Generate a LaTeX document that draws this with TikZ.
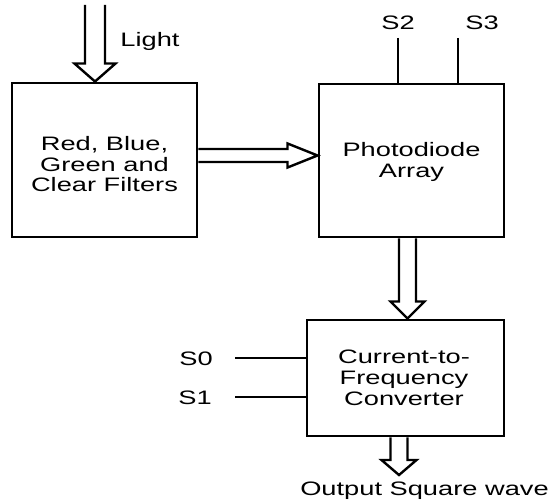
\documentclass[tikz,border=0pt]{standalone}
\usepackage{fontspec}
\setmainfont{Liberation Sans}[FakeStretch=1.4]
\usetikzlibrary{calc}
\begin{document}
\begin{tikzpicture}[x=0.75pt,y=-0.75pt,
  box/.style={draw, line width=2.2pt, inner sep=0pt},
  btxt/.style={inner sep=0pt, align=center, anchor=north,
    font=\fontsize{14.6pt}{15.6pt}\selectfont},
  lbl/.style={font=\fontsize{14.6pt}{15.6pt}\selectfont, inner sep=0pt, anchor=base},
  hollow/.style={draw, line width=1.8pt, line join=miter},
  sig/.style={draw, line width=2pt}]
\fill[white] (0,0) rectangle (553,503);
\useasboundingbox (0,0) rectangle (553,503);

% blocks
\node[box, minimum width=185*0.75pt, minimum height=154*0.75pt] (filt) at (104.5,160) {};
\node[box, minimum width=185*0.75pt, minimum height=153*0.75pt] (pd) at (411.5,160.5) {};
\node[box, minimum width=197*0.75pt, minimum height=116*0.75pt] (cf) at (405.5,378) {};
\node[btxt] (ftxt) at (104.5,136) {Red, Blue,\\Green and\\Clear Filters};
\node[btxt] (ptxt) at (411.5,142) {Photodiode\\Array};
\node[btxt] (ctxt) at (404,350) {Current-to-\\Frequency\\Converter};

% labels
\node[lbl] (light) at (150,47) {Light};
\node[lbl] (s2) at (398,30) {S2};
\node[lbl] (s3) at (482,30) {S3};
\node[lbl] (s0) at (196,365) {S0};
\node[lbl] (s1) at (195,404) {S1};
\node[lbl] (out) at (424.5,495) {Output Square wave};

% control lines
\coordinate (s2e) at (398,38);
\coordinate (s3e) at (458,38);
\coordinate (s0e) at (235,358);
\coordinate (s1e) at (235,397);
\draw[sig] (s2e) -- (s2e |- pd.north);
\draw[sig] (s3e) -- (s3e |- pd.north);
\draw[sig] (s0e) -- (s0e -| cf.west);
\draw[sig] (s1e) -- (s1e -| cf.west);

% Light arrow
\coordinate (ltop) at (95,5);
\draw[hollow] ($(ltop)+(-10,0)$) -- ($(ltop |- filt.north)+(-10,-18)$)
  -- ($(ltop |- filt.north)+(-20.5,-18)$) -- (ltop |- filt.north)
  -- ($(ltop |- filt.north)+(20.5,-18)$) -- ($(ltop |- filt.north)+(10,-18)$)
  -- ($(ltop)+(10,0)$);

% filters -> photodiode
\coordinate (h) at (0,155.5);
\draw[hollow] ($(filt.east|-h)+(0,-6.5)$) -- ($(pd.west|-h)+(-30,-6.5)$)
  -- ($(pd.west|-h)+(-30,-12)$) -- (pd.west|-h)
  -- ($(pd.west|-h)+(-30,12)$) -- ($(pd.west|-h)+(-30,6.5)$)
  -- ($(filt.east|-h)+(0,6.5)$);

% photodiode -> converter
\coordinate (v1) at (407.5,0);
\draw[hollow] ($(v1|-pd.south)+(-8.5,0)$) -- ($(v1|-cf.north)+(-8.5,-17)$)
  -- ($(v1|-cf.north)+(-17,-17)$) -- (v1|-cf.north)
  -- ($(v1|-cf.north)+(17,-17)$) -- ($(v1|-cf.north)+(8.5,-17)$)
  -- ($(v1|-pd.south)+(8.5,0)$);

% converter -> output
\coordinate (oend) at (399,475);
\draw[hollow] ($(oend|-cf.south)+(-8.5,0)$) -- ($(oend)+(-8.5,-15)$)
  -- ($(oend)+(-17.5,-15)$) -- (oend)
  -- ($(oend)+(17.5,-15)$) -- ($(oend)+(8.5,-15)$)
  -- ($(oend|-cf.south)+(8.5,0)$);
\end{tikzpicture}
\end{document}
